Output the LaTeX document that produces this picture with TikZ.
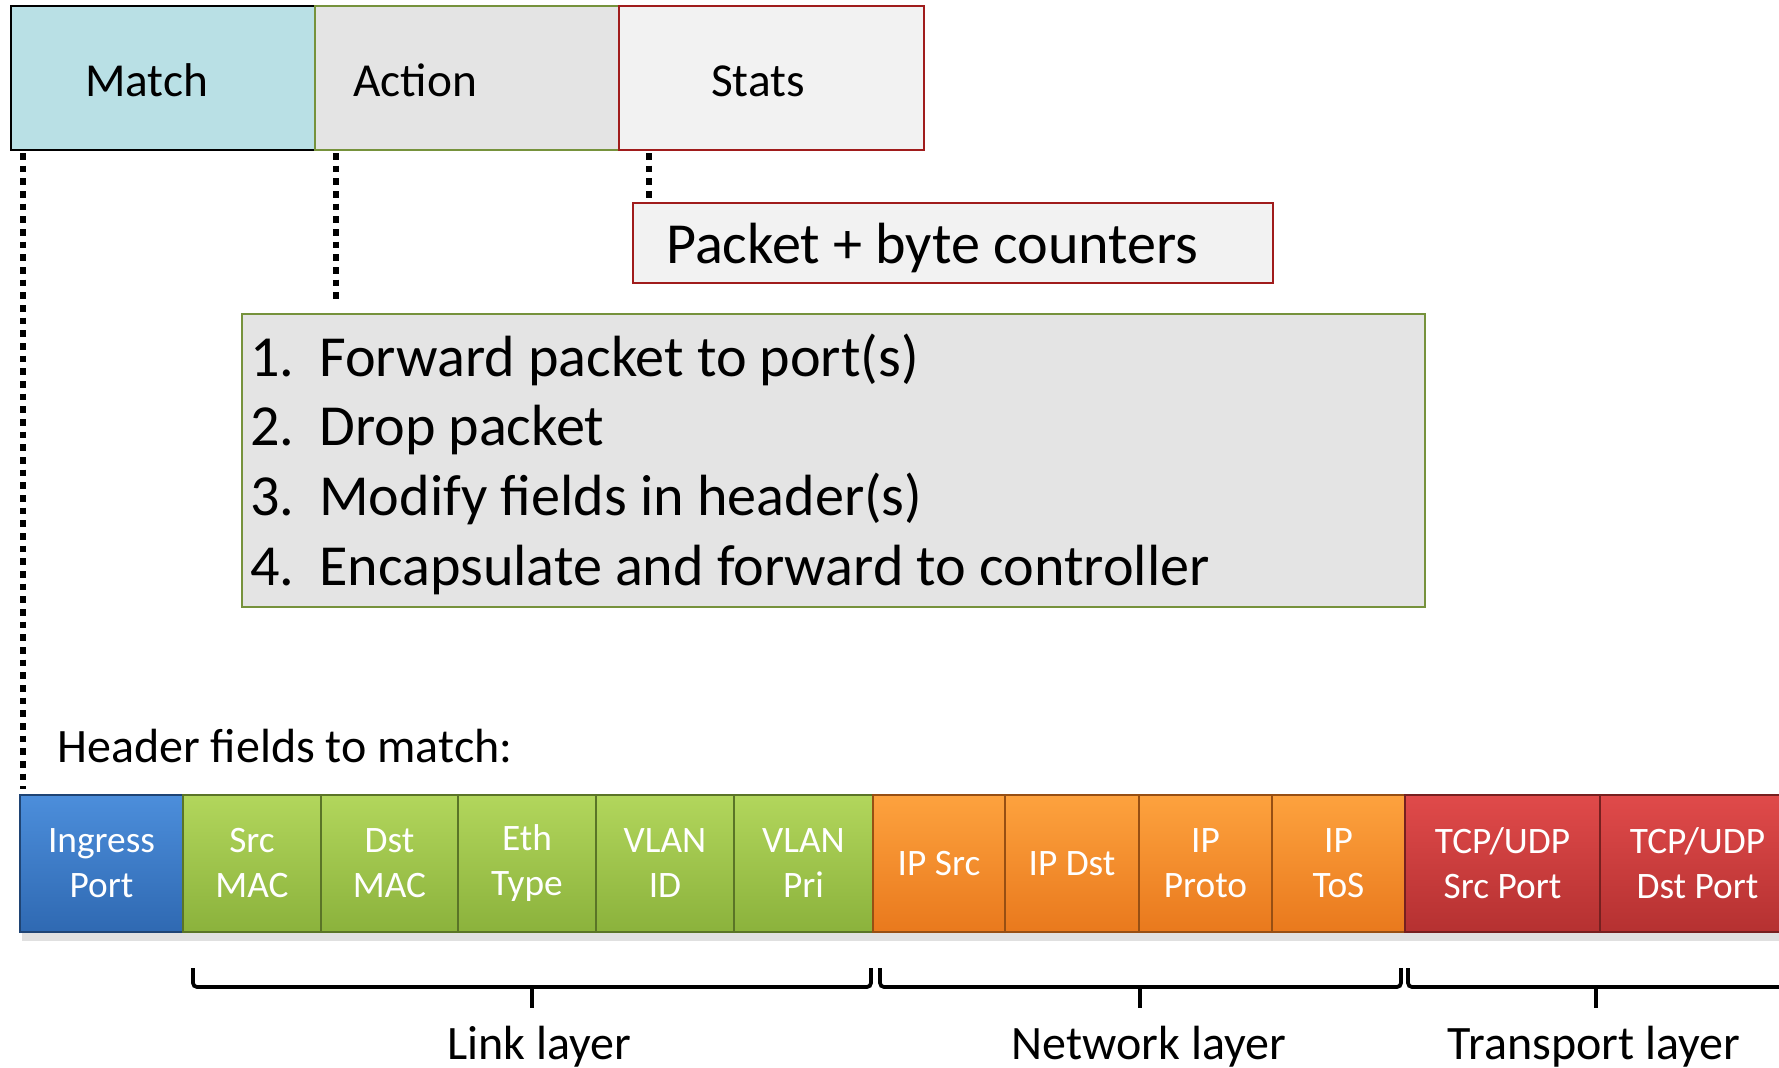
\documentclass[tikz,border=0pt]{standalone}
\usepackage{fontspec}
\setmainfont{Carlito}
\usetikzlibrary{shadows}
\definecolor{matchfill}{HTML}{B9E0E5}
\definecolor{actfill}{HTML}{E4E4E4}
\definecolor{statfill}{HTML}{F2F2F2}
\definecolor{olivedraw}{HTML}{76923C}
\definecolor{reddraw}{HTML}{A01C1C}
\definecolor{blueT}{HTML}{4C8EDB}
\definecolor{blueB}{HTML}{2F69B2}
\definecolor{greenT}{HTML}{B2D65C}
\definecolor{greenB}{HTML}{8BB23C}
\definecolor{orangeT}{HTML}{FDA23E}
\definecolor{orangeB}{HTML}{E9791D}
\definecolor{redT}{HTML}{E04A4A}
\definecolor{redB}{HTML}{B53131}
\tikzset{
  topbox/.style={rectangle, line width=2pt, minimum height=108pt, inner sep=0pt},
  toplabel/.style={font=\fontsize{35.5}{42}\selectfont, inner sep=0pt, anchor=base west},
  biglabel/.style={font=\fontsize{43.6}{52}\selectfont, inner sep=0pt, anchor=base west},
  dotline/.style={line width=5.2pt, dash pattern=on 5pt off 4.5pt},
  fieldcell/.style 2 args={rectangle, minimum height=102.75pt, inner sep=0pt,
     top color=#1, bottom color=#2, draw=#2!65!black, line width=0.8pt,
     text=white, align=center, font=\fontsize{28}{33.75}\selectfont},
  bracepath/.style={line width=2.8pt, rounded corners=3pt},
  layerlabel/.style={font=\fontsize{36}{43}\selectfont, inner sep=0pt, anchor=base}
}
\begin{document}
\begin{tikzpicture}[x=0.75pt,y=-0.75pt]
\useasboundingbox (0,0) rectangle (1779,1068);
\clip (0,0) rectangle (1779,1068);

% top table
\node[topbox, draw=black, fill=matchfill, minimum width=228pt] (match) at (163,78) {};
\node[topbox, draw=olivedraw, fill=actfill, minimum width=228pt] (action) at (467,78) {};
\node[topbox, draw=reddraw, fill=statfill, minimum width=228.75pt] (stats) at (771.5,78) {};
\node[toplabel] (matchtxt) at (85,96) {Match};
\node[toplabel] (actiontxt) at (353,96) {Action};
\node[toplabel] (statstxt) at (711,96) {Stats};

% packet counter box
\node[rectangle, draw=reddraw, line width=2pt, fill=statfill, minimum width=480pt, minimum height=60pt, inner sep=0pt] (packet) at (953,243) {};
\node[biglabel] (packettxt) at (666,263) {Packet + byte counters};

% action list box
\node[rectangle, draw=olivedraw, line width=2pt, fill=actfill, minimum width=887.25pt, minimum height=219.75pt, inner sep=0pt] (list) at (833.5,460.5) {};
\node[biglabel] (n1) at (250,376) {1.};
\node[biglabel] (i1) at (319,376) {Forward packet to port(s)};
\node[biglabel] (n2) at (250,445) {2.};
\node[biglabel] (i2) at (319,445) {Drop packet};
\node[biglabel] (n3) at (250,515) {3.};
\node[biglabel] (i3) at (319,515) {Modify fields in header(s)};
\node[biglabel] (n4) at (250,585) {4.};
\node[biglabel] (i4) at (319,585) {Encapsulate and forward to controller};

% dotted connectors
\coordinate (mtop) at (23,153);
\coordinate (mbot) at (23,789);
\coordinate (atop) at (336,153);
\coordinate (abot) at (336,304);
\coordinate (stop) at (649,153);
\coordinate (sbot) at (649,202);
\draw[dotline] (mtop) -- (mbot);
\draw[dotline] (atop) -- (abot);
\draw[dotline] (stop) -- (sbot);

% header fields
\node[font=\fontsize{36}{43}\selectfont, inner sep=0pt, anchor=base west] (hdr) at (57,762) {Header fields to match:};

\fill[black, opacity=0.12] (22,932) rectangle (1779,941);
\node[fieldcell={blueT}{blueB}, minimum width=122.25pt] (ingress) at (101.5,863.5) {Ingress\\Port};
\node[fieldcell={greenT}{greenB}, minimum width=103.5pt] (srcmac) at (252,863.5) {Src\\MAC};
\node[fieldcell={greenT}{greenB}, minimum width=102.75pt] (dstmac) at (389.5,863.5) {Dst\\MAC};
\node[fieldcell={greenT}{greenB}, minimum width=103.5pt] (ethtype) at (527,863.5) {Eth\\Type};
\node[fieldcell={greenT}{greenB}, minimum width=103.5pt] (vlanid) at (665,863.5) {VLAN\\ID};
\node[fieldcell={greenT}{greenB}, minimum width=104.25pt] (vlanpri) at (803.5,863.5) {VLAN\\Pri};
\node[fieldcell={orangeT}{orangeB}, minimum width=99pt] (ipsrc) at (939,863.5) {IP Src};
\node[fieldcell={orangeT}{orangeB}, minimum width=100.5pt] (ipdst) at (1072,863.5) {IP Dst};
\node[fieldcell={orangeT}{orangeB}, minimum width=99.75pt] (ipproto) at (1205.5,863.5) {IP\\Proto};
\node[fieldcell={orangeT}{orangeB}, minimum width=99.75pt] (iptos) at (1338.5,863.5) {IP\\ToS};
\node[fieldcell={redT}{redB}, minimum width=146.25pt] (tcpsrc) at (1502.5,863.5) {TCP/UDP\\Src Port};
\node[fieldcell={redT}{redB}, minimum width=146.25pt] (tcpdst) at (1697.5,863.5) {TCP/UDP\\Dst Port};

% braces
\draw[bracepath] (193,968) -- (193,987) -- (871,987) -- (871,968);
\draw[line width=2.8pt] (532,987) -- (532,1008);
\draw[bracepath] (880,968) -- (880,987) -- (1401,987) -- (1401,968);
\draw[line width=2.8pt] (1140,987) -- (1140,1008);
\draw[bracepath] (1408,968) -- (1408,987) -- (1790,987);
\draw[line width=2.8pt] (1596,987) -- (1596,1008);

\node[layerlabel] (link) at (539,1059) {Link layer};
\node[layerlabel] (network) at (1149,1059) {Network layer};
\node[layerlabel] (transport) at (1594,1059) {Transport layer};
\end{tikzpicture}
\end{document}
